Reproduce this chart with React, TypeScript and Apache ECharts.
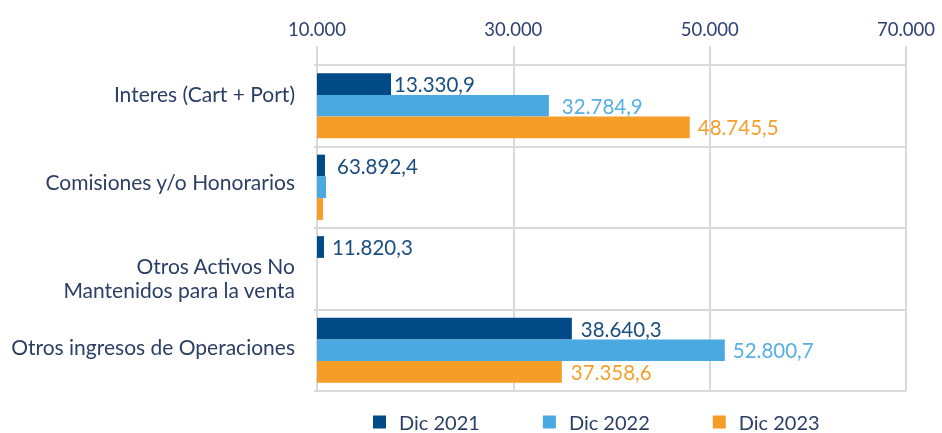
import React, { useEffect, useRef } from "react";
import * as echarts from "echarts";

// ---- data ----
const categories = [
  "Interes (Cart + Port)",
  "Comisiones y/o Honorarios",
  "Otros Activos No\nMantenidos para la venta",
  "Otros ingresos de Operaciones",
];
const seriesNames = ["Dic 2021", "Dic 2022", "Dic 2023"];
// bar lengths as read on the axis
const dic2021 = [17540, 10815, 10710, 35960];
const dic2022 = [33620, 10915, null, 51540];
const dic2023 = [47970, 10610, null, 34940];
// printed data labels
const labels2021 = [13330.9, 63892.4, 11820.3, 38640.3];
const labels2022 = [32784.9, null, null, 52800.7];
const labels2023 = [48745.5, null, null, 37358.6];
// axis
const axisMin = 10000;
const axisMax = 70000;
const axisStep = 20000;

// ---- layout / style ----
const barColors = ["#004a86", "#4aa9e0", "#f59d27"];
const labelColors = ["#1b4e80", "#56b0e3", "#f5a02c"];
const textColor = "#2b3e64";
const gridColor = "#d9d9d9";
const FONT = "Lato, 'Open Sans', sans-serif";
// vertical nudge of each category label (px, negative = up, positive = down)
const catLabelShift = [-12, -6, 9, -4];
// label distance from bar end per series / category
const labelDistance = [
  [3, 12, 8, 9],
  [13, 8, 8, 8],
  [8, 8, 8, 9],
];

function fmt(n: number, d: number): string {
  const [i, f] = n.toFixed(d).split(".");
  const ip = i.replace(/\B(?=(\d{3})+(?!\d))/g, ".");
  return f ? ip + "," + f : ip;
}

export default function App() {
  const ref = useRef<HTMLDivElement>(null);
  useEffect(() => {
    if (!ref.current) return;
    const chart = echarts.init(ref.current, undefined, { renderer: "svg" });
    const values = [dic2021, dic2022, dic2023];
    const labels = [labels2021, labels2022, labels2023];
    const base = { fontSize: 21, color: textColor, lineHeight: 24, fontFamily: FONT };
    const rich: any = { t: base };
    catLabelShift.forEach((s, i) => {
      // spacer line whose height (2*|shift|) moves the centred block
      rich["s" + i] = { fontSize: 1, lineHeight: Math.abs(2 * s), color: "rgba(0,0,0,0)" };
    });
    const option: any = {
      animation: false,
      textStyle: { fontFamily: FONT },
      grid: { left: 317, right: 36, top: 65, bottom: 42, containLabel: false, outerBoundsMode: "none" },
      legend: {
        data: seriesNames,
        left: 373,
        top: 412,
        padding: 0,
        icon: "rect",
        itemWidth: 13,
        itemHeight: 13,
        itemGap: 63,
        textStyle: { fontSize: 20, color: textColor, fontFamily: FONT, padding: [0, 0, 0, 8] },
      },
      xAxis: {
        type: "value",
        position: "top",
        min: 0,
        max: axisMax - axisMin,
        interval: axisStep,
        axisLine: { show: true, lineStyle: { color: gridColor, width: 2 } },
        axisTick: { show: true, length: 19, lineStyle: { color: gridColor, width: 2 } },
        splitLine: { show: true, lineStyle: { color: gridColor, width: 2 } },
        axisLabel: {
          fontSize: 18.5,
          color: "#2f4070",
          margin: 27,
          fontFamily: FONT,
          formatter: (v: number) => fmt(v + axisMin, 0),
        },
      },
      yAxis: {
        type: "category",
        data: categories,
        inverse: true,
        axisLine: { show: true, lineStyle: { color: gridColor, width: 2 } },
        axisTick: { show: true, length: 3, lineStyle: { color: gridColor, width: 2 } },
        splitLine: { show: true, lineStyle: { color: gridColor, width: 2 } },
        axisLabel: {
          fontSize: 21,
          color: textColor,
          margin: 22,
          lineHeight: 24,
          fontFamily: FONT,
          rich,
          formatter: (value: string, index: number) => {
            const body = value
              .split("\n")
              .map((l) => `{t|${l}}`)
              .join("\n");
            const s = catLabelShift[index] || 0;
            if (s === 0) return body;
            const spacer = `{s${index}| }`;
            return s > 0 ? `${spacer}\n${body}` : `${body}\n${spacer}`;
          },
        },
      },
      series: seriesNames.map((name, s) => ({
        name,
        type: "bar",
        barGap: "0%",
        barCategoryGap: "20%",
        itemStyle: { color: barColors[s] },
        data: values[s].map((v, i) =>
          v == null ? null : { value: v - axisMin, label: { distance: labelDistance[s][i] } }
        ),
        label: {
          show: true,
          position: "right",
          distance: 8,
          fontSize: 20.5,
          fontFamily: FONT,
          color: labelColors[s],
          formatter: (p: any) => {
            const l = labels[s][p.dataIndex];
            return l == null ? "" : fmt(l, 1);
          },
        },
      })),
    };
    chart.setOption(option);
    return () => chart.dispose();
  }, []);
  return <div ref={ref} style={{ position: "fixed", left: 0, top: 0, width: 942, height: 433 }} />;
}
